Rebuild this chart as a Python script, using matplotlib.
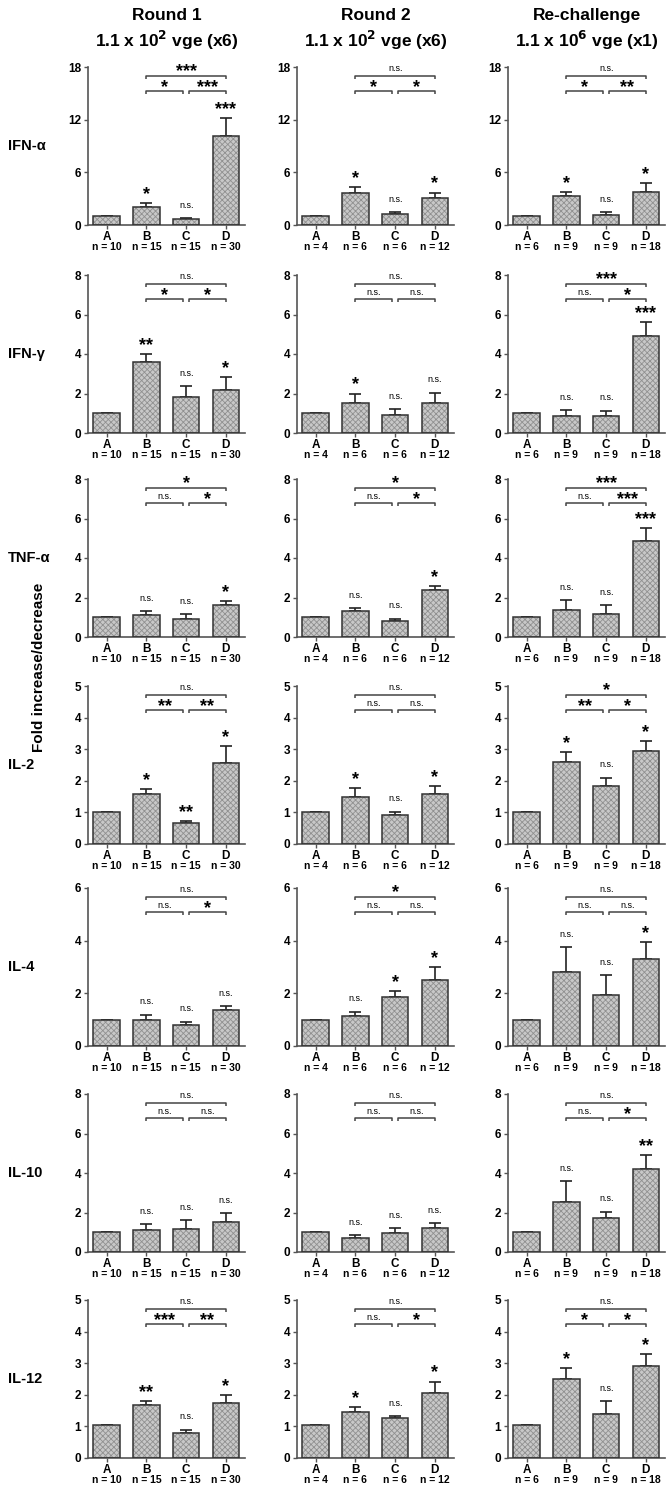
import matplotlib
matplotlib.use("Agg")
import matplotlib.pyplot as plt
import numpy as np

plt.rcParams['font.family'] = ['Liberation Sans', 'DejaVu Sans']
plt.rcParams['hatch.linewidth'] = 0.6

cytokines = ["IFN-α", "IFN-γ", "TNF-α", "IL-2", "IL-4", "IL-10", "IL-12"]
groups = ["A", "B", "C", "D"]
col_titles = ["Round 1\n1.1 x 10$^{\\mathbf{2}}$ vge (x6)",
              "Round 2\n1.1 x 10$^{\\mathbf{2}}$ vge (x6)",
              "Re-challenge\n1.1 x 10$^{\\mathbf{6}}$ vge (x1)"]
n_counts = [[10, 15, 15, 30], [4, 6, 6, 12], [6, 9, 9, 18]]
ymax = [18, 8, 8, 5, 6, 8, 5]
ystep = [6, 2, 2, 1, 2, 2, 1]

# mean values: rows = cytokines, for each column (Round 1, Round 2, Re-challenge)
round1_mean = [[1.0, 2.1, 0.68, 10.1], [1.0, 3.6, 1.84, 2.2], [1.0, 1.1, 0.9, 1.6],
               [1.0, 1.58, 0.68, 2.55], [1.0, 0.97, 0.8, 1.37], [1.0, 1.1, 1.15, 1.5],
               [1.05, 1.68, 0.79, 1.74]]
round1_err = [[0.0, 0.37, 0.12, 2.1], [0.0, 0.4, 0.54, 0.62], [0.0, 0.2, 0.25, 0.2],
              [0.0, 0.17, 0.04, 0.55], [0.0, 0.22, 0.12, 0.15], [0.0, 0.3, 0.45, 0.45],
              [0.0, 0.12, 0.11, 0.26]]
round2_mean = [[1.0, 3.6, 1.25, 3.1], [1.0, 1.5, 0.9, 1.5], [1.0, 1.3, 0.8, 2.4],
               [1.0, 1.5, 0.92, 1.58], [1.0, 1.15, 1.85, 2.5], [1.0, 0.72, 0.95, 1.2],
               [1.05, 1.45, 1.28, 2.05]]
round2_err = [[0.0, 0.76, 0.25, 0.6], [0.0, 0.5, 0.3, 0.55], [0.0, 0.15, 0.12, 0.2],
              [0.0, 0.26, 0.1, 0.24], [0.0, 0.15, 0.25, 0.5], [0.0, 0.13, 0.25, 0.25],
              [0.0, 0.15, 0.04, 0.37]]
rechal_mean = [[1.0, 3.3, 1.17, 3.8], [1.0, 0.86, 0.86, 4.9], [1.0, 1.35, 1.15, 4.85],
               [1.0, 2.6, 1.85, 2.95], [1.0, 2.8, 1.95, 3.3], [1.0, 2.55, 1.7, 4.2],
               [1.05, 2.5, 1.4, 2.9]]
rechal_err = [[0.0, 0.5, 0.33, 1.0], [0.0, 0.3, 0.27, 0.7], [0.0, 0.5, 0.45, 0.65],
              [0.0, 0.3, 0.25, 0.3], [0.0, 0.95, 0.75, 0.65], [0.0, 1.05, 0.34, 0.7],
              [0.0, 0.35, 0.4, 0.4]]

# significance labels above bars (A has none)
round1_sig = [["", "*", "n.s.", "***"], ["", "**", "n.s.", "*"], ["", "n.s.", "n.s.", "*"],
              ["", "*", "**", "*"], ["", "n.s.", "n.s.", "n.s."], ["", "n.s.", "n.s.", "n.s."],
              ["", "**", "n.s.", "*"]]
round2_sig = [["", "*", "n.s.", "*"], ["", "*", "n.s.", "n.s."], ["", "n.s.", "n.s.", "*"],
              ["", "*", "n.s.", "*"], ["", "n.s.", "*", "*"], ["", "n.s.", "n.s.", "n.s."],
              ["", "*", "n.s.", "*"]]
rechal_sig = [["", "*", "n.s.", "*"], ["", "n.s.", "n.s.", "***"], ["", "n.s.", "n.s.", "***"],
              ["", "*", "n.s.", "*"], ["", "n.s.", "n.s.", "*"], ["", "n.s.", "n.s.", "**"],
              ["", "*", "n.s.", "*"]]
# brackets: [B vs C, C vs D, B vs D]
round1_brk = [["*", "***", "***"], ["*", "*", "n.s."], ["n.s.", "*", "*"], ["**", "**", "n.s."],
              ["n.s.", "*", "n.s."], ["n.s.", "n.s.", "n.s."], ["***", "**", "n.s."]]
round2_brk = [["*", "*", "n.s."], ["n.s.", "n.s.", "n.s."], ["n.s.", "*", "*"], ["n.s.", "n.s.", "n.s."],
              ["n.s.", "n.s.", "*"], ["n.s.", "n.s.", "n.s."], ["n.s.", "*", "n.s."]]
rechal_brk = [["*", "**", "n.s."], ["n.s.", "*", "***"], ["n.s.", "***", "***"], ["**", "*", "*"],
              ["n.s.", "n.s.", "n.s."], ["n.s.", "*", "n.s."], ["*", "*", "n.s."]]

means = [round1_mean, round2_mean, rechal_mean]
errs = [round1_err, round2_err, rechal_err]
sigs = [round1_sig, round2_sig, rechal_sig]
brks = [round1_brk, round2_brk, rechal_brk]

W, H = 666, 1485
fig = plt.figure(figsize=(W / 100, H / 100), dpi=100)

lefts_px = [88, 297, 508]
zero_px = [225, 433, 637, 844, 1046, 1252, 1458]
ax_w, ax_h = 157, 158
spine_col = '#555555'
x = np.arange(4)


def sig_text(ax, xc, y, s, dy=4):
    if s == "":
        return
    if s == "n.s.":
        ax.annotate(s, (xc, y), xytext=(0, dy + 2), textcoords='offset points',
                    ha='center', va='bottom', fontsize=6.5)
    else:
        ax.annotate(s, (xc, y), xytext=(0, dy - 4), textcoords='offset points',
                    ha='center', va='bottom', fontsize=13, fontweight='bold')


for r in range(7):
    for c in range(3):
        ax = fig.add_axes([lefts_px[c] / W, 1 - zero_px[r] / H, ax_w / W, ax_h / H])
        m = means[c][r]
        e = errs[c][r]
        ax.bar(x, m, width=0.67, color='#c8c8c8', edgecolor='#909090', hatch='xxxxxx',
               linewidth=0, zorder=2)
        ax.bar(x, m, width=0.67, fill=False, edgecolor='#333333', linewidth=1.1, zorder=3)
        ax.errorbar(x, m, yerr=[np.zeros(4), e], fmt='none', ecolor='#222222',
                    elinewidth=1.2, capsize=4.5, capthick=1.2, zorder=1)
        ym = ymax[r]
        ax.set_xlim(-0.47, 3.48)
        ax.set_ylim(0, ym)
        ax.set_yticks(np.arange(0, ym + 0.01, ystep[r]))
        ax.set_yticklabels([f"{int(v)}" for v in np.arange(0, ym + 0.01, ystep[r])],
                           fontsize=8.5, fontweight='bold')
        ax.set_xticks(x)
        ax.set_xticklabels(groups, fontsize=8.5, fontweight='bold')
        for i in range(4):
            ax.annotate(f"n = {n_counts[c][i]}", (x[i], 0), xycoords=('data', 'axes fraction'),
                        xytext=(0, -15.8), textcoords='offset points', ha='center', va='center',
                        fontsize=7.5, fontweight='bold')
        for sp in ['top', 'right']:
            ax.spines[sp].set_visible(False)
        for sp in ['left', 'bottom']:
            ax.spines[sp].set_color(spine_col)
            ax.spines[sp].set_linewidth(1.2)
        ax.spines['left'].set_bounds(0, ym)
        ax.tick_params(axis='both', direction='out', length=3, width=1, color=spine_col, pad=2)
        ax.tick_params(axis='x', pad=1.2)
        ax.patch.set_alpha(0)

        # labels above bars
        for i in range(4):
            sig_text(ax, x[i], m[i] + e[i], sigs[c][r][i])

        # brackets
        lo = 0.845 * ym
        hi = 0.945 * ym
        tk = 0.018 * ym
        segs = [(1, 1.92, lo, brks[c][r][0]), (2.07, 3, lo, brks[c][r][1]), (1, 3, hi, brks[c][r][2])]
        for x0, x1, yy, s in segs:
            ax.plot([x0, x0, x1, x1], [yy - tk, yy, yy, yy - tk], color='#444444', lw=1.1,
                    clip_on=False, solid_capstyle='butt')
            if s == "n.s.":
                ax.text((x0 + x1) / 2, yy + 0.015 * ym, s, ha='center', va='bottom', fontsize=6.5)
            else:
                ax.text((x0 + x1) / 2, yy - 0.03 * ym, s, ha='center', va='bottom', fontsize=13,
                        fontweight='bold')

        if c == 0:
            fig.text(8 / W, 1 - (zero_px[r] - ax_h / 2) / H, cytokines[r], ha='left', va='center',
                     fontsize=10.5, fontweight='bold')

for c in range(3):
    xc = (lefts_px[c] + ax_w / 2) / W
    fig.text(xc, 1 - 30 / H, col_titles[c], ha='center', va='center', fontsize=12.5,
             fontweight='bold', linespacing=1.3)

fig.text(39 / W, 1 - 667 / H, "Fold increase/decrease", rotation=90, ha='center', va='center',
         fontsize=11, fontweight='bold')

fig.savefig("out.png", dpi=100)
